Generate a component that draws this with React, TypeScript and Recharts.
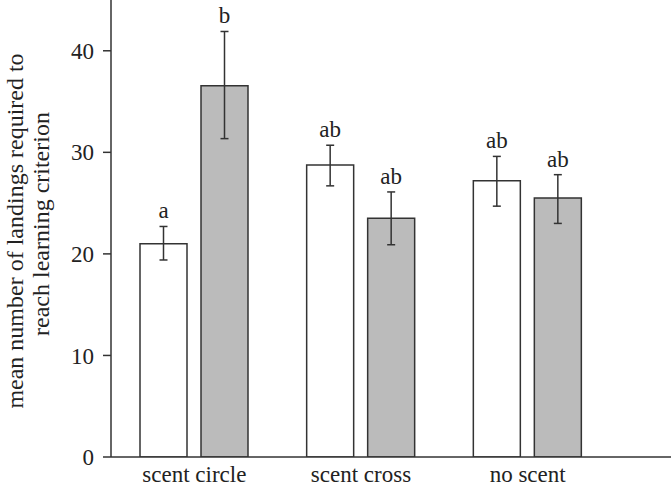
import React from 'react';
import { BarChart, Bar, XAxis, YAxis, ErrorBar, LabelList } from 'recharts';

const categories = ['scent circle', 'scent cross', 'no scent'];
const whiteMeans = [21.0, 28.75, 27.2];
const grayMeans = [36.55, 23.5, 25.5];
const whiteErr = [[1.6, 1.7], [2.05, 1.95], [2.5, 2.4]];
const grayErr = [[5.2, 5.35], [2.6, 2.6], [2.5, 2.3]];
const whiteLetters = ['a', 'ab', 'ab'];
const grayLetters = ['b', 'ab', 'ab'];
const yTicks = [0, 10, 20, 30, 40];

const data = categories.map((c, i) => ({
  name: c,
  white: whiteMeans[i],
  gray: grayMeans[i],
  whiteErr: whiteErr[i],
  grayErr: grayErr[i],
}));

const FONT = 'Liberation Serif, Tinos, DejaVu Serif, serif';
const INK = '#222';
const FS = 23;
const LFS = 24;

const makeLetter = (letters: string[], errs: number[][], means: number[]) => (props: any) => {
  const { x, y, width, height, index } = props;
  const pxPerUnit = height / means[index];
  const top = y - errs[index][1] * pxPerUnit;
  return (
    <text x={x + width / 2} y={top - 8} textAnchor="middle" style={{ fontFamily: FONT }} fontSize={FS} fill={INK}>
      {letters[index]}
    </text>
  );
};

const YLabel = () => (
  <g style={{ fontFamily: FONT }}>
    <text transform="translate(23,231) rotate(-90)" textAnchor="middle" fontSize={LFS} fill={INK}>
      mean number of landings required to
    </text>
    <text transform="translate(49,224) rotate(-90)" textAnchor="middle" fontSize={LFS} fill={INK}>
      reach learning criterion
    </text>
  </g>
);

export default function App() {
  return (
    <div style={{ position: 'absolute', left: 0, top: 0, background: '#fff', fontFamily: FONT }}>
      <BarChart
        width={671}
        height={490}
        data={data}
        margin={{ top: 0, right: 0, left: 0, bottom: 0 }}
        barSize={47}
        barGap={14}
        style={{ fontFamily: FONT }}
      >
        <XAxis
          dataKey="name"
          height={33}
          tickLine={false}
          padding={{ left: 0, right: 60 }}
          axisLine={{ stroke: '#333', strokeWidth: 1.5 }}
          tick={{ fontFamily: FONT, fontSize: FS, fill: INK, style: { fontFamily: FONT } }}
          tickMargin={3}
        />
        <YAxis
          width={111}
          domain={[0, 45]}
          ticks={yTicks}
          allowDataOverflow
          tickSize={8}
          tickLine={{ stroke: '#333', strokeWidth: 1.5 }}
          axisLine={{ stroke: '#333', strokeWidth: 1.5 }}
          tick={{ fontFamily: FONT, fontSize: FS, fill: INK, style: { fontFamily: FONT } }}
          tickMargin={9}
          label={{ content: () => <YLabel /> }}
        />
        <Bar dataKey="white" fill="#ffffff" stroke="#333" strokeWidth={1.5} isAnimationActive={false}>
          <ErrorBar dataKey="whiteErr" width={4} stroke="#333" strokeWidth={1.5} />
          <LabelList dataKey="white" content={makeLetter(whiteLetters, whiteErr, whiteMeans)} />
        </Bar>
        <Bar dataKey="gray" fill="#bbbbbb" stroke="#333" strokeWidth={1.5} isAnimationActive={false}>
          <ErrorBar dataKey="grayErr" width={4} stroke="#333" strokeWidth={1.5} />
          <LabelList dataKey="gray" content={makeLetter(grayLetters, grayErr, grayMeans)} />
        </Bar>
      </BarChart>
    </div>
  );
}
